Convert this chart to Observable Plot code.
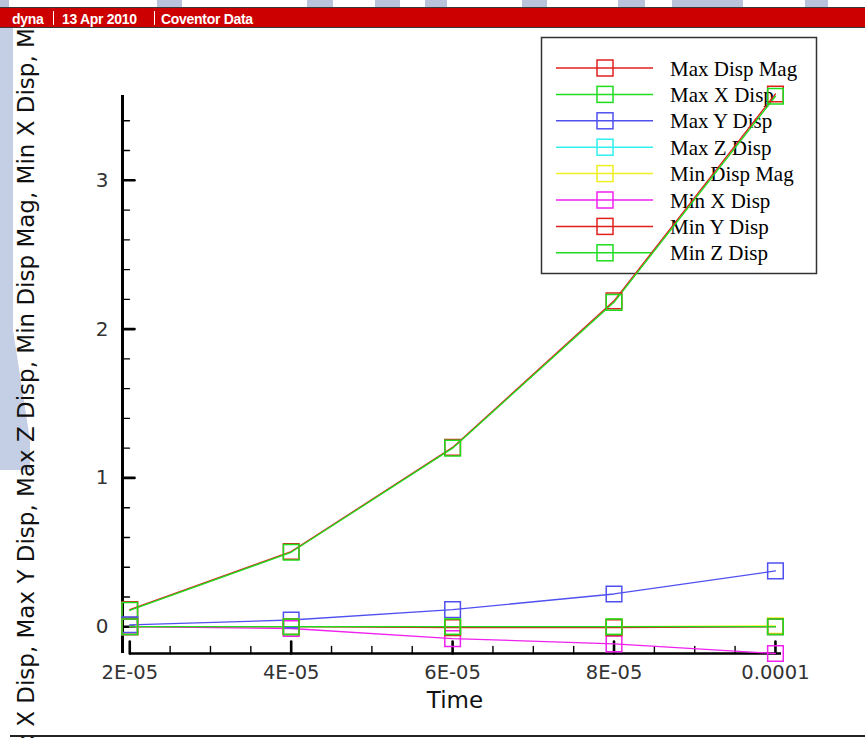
<!DOCTYPE html>
<html><head><meta charset="utf-8">
<script src="https://cdn.jsdelivr.net/npm/d3@7"></script>
<script src="https://cdn.jsdelivr.net/npm/@observablehq/plot@0.6"></script>
<style>
html,body{margin:0;padding:0;background:#fff;}
#wrap{position:relative;width:865px;height:738px;overflow:hidden;background:#fff;}
#watermark{position:absolute;left:0;top:0;}
#chart{position:absolute;left:0;top:0;}
#header{position:absolute;left:0;top:0;z-index:3;}
#bottomline{position:absolute;left:10px;top:735px;width:855px;height:2px;background:#222;z-index:3;}
</style>
</head><body>
<div id="wrap">
  <svg id="watermark" width="60" height="738" xmlns="http://www.w3.org/2000/svg">
    <polygon points="0,28 13,28 13,330 30,440 30,470 0,470" fill="#c4cee4"/>
  </svg>
  <div id="chart"></div>
  <svg id="header" width="865" height="28" xmlns="http://www.w3.org/2000/svg">
    <rect x="0" y="0" width="865" height="7" fill="#fff"/>
    <g fill="#b9c4dc">
      <rect x="0" y="0" width="9" height="7"/>
      <rect x="157" y="0" width="25" height="7"/>
      <rect x="307" y="0" width="26" height="7"/>
      <rect x="375" y="0" width="25" height="7"/>
      <rect x="425" y="0" width="22" height="7"/>
      <rect x="522" y="0" width="25" height="7"/>
      <rect x="618" y="0" width="27" height="7"/>
      <rect x="672" y="0" width="71" height="7"/>
      <rect x="805" y="0" width="23" height="7"/>
    </g>
    <rect x="0" y="7" width="865" height="21" fill="#3a3a3a"/>
    <rect x="0" y="8" width="865" height="19" fill="#cc0000"/>
    <g fill="#fff" font-family="'Liberation Sans', Arial, sans-serif" font-weight="bold" font-size="14" letter-spacing="-0.3">
      <text x="12" y="24">dyna</text>
      <text x="62" y="24">13 Apr 2010</text>
      <text x="161" y="24">Coventor Data</text>
    </g>
    <g stroke="#fff" stroke-width="1">
      <line x1="53.5" x2="53.5" y1="11" y2="25"/>
      <line x1="154.5" x2="154.5" y1="11" y2="25"/>
    </g>
  </svg>
  <div id="bottomline"></div>
</div>
<script>
// ---- data ----
const times = [2e-5, 4e-5, 6e-5, 8e-5, 1e-4];
const seriesNames = ["Max Disp Mag", "Max X Disp", "Max Y Disp", "Max Z Disp", "Min Disp Mag", "Min X Disp", "Min Y Disp", "Min Z Disp"];
const seriesColors = ["#e0201e", "#1edc1e", "#5050f0", "#30f0f0", "#f0f020", "#f020f0", "#e0201e", "#1edc1e"];
const maxDispMag = [0.115, 0.505, 1.205, 2.19, 3.58];
const maxXDisp   = [0.11, 0.50, 1.20, 2.18, 3.565];
const maxYDisp   = [0.013, 0.045, 0.115, 0.22, 0.375];
const maxZDisp   = [0, 0, 0, 0, 0];
const minDispMag = [0, 0, 0, 0, 0.006];
const minXDisp   = [0, -0.012, -0.08, -0.115, -0.18];
const minYDisp   = [0, 0, -0.006, -0.006, 0];
const minZDisp   = [0, 0, 0, 0, 0];
const seriesValues = [maxDispMag, maxXDisp, maxYDisp, maxZDisp, minDispMag, minXDisp, minYDisp, minZDisp];

const xMajor = [2e-5, 4e-5, 6e-5, 8e-5, 1e-4];
const xTickLabels = ["2E-05", "4E-05", "6E-05", "8E-05", "0.0001"];
const xMinor = [2.5e-5, 3e-5, 3.5e-5, 4.5e-5, 5e-5, 5.5e-5, 6.5e-5, 7e-5, 7.5e-5, 8.5e-5, 9e-5, 9.5e-5];
const yMajor = [0, 1, 2, 3];
const yTickLabels = ["0", "1", "2", "3"];
const yMinor = [0.2, 0.4, 0.6, 0.8, 1.2, 1.4, 1.6, 1.8, 2.2, 2.4, 2.6, 2.8, 3.2, 3.4];
const xTitle = "Time";
const yTitle = seriesNames.join(", ");

const xDomain = [1.91e-5, 1.0075e-4];
const yDomain = [-0.18, 3.57];

// tidy table
const table = [];
seriesNames.forEach((name, i) => {
  times.forEach((t, j) => table.push({series: name, t, v: seriesValues[i][j]}));
});

const tickShape = {draw(ctx, l) { ctx.moveTo(0, 0); ctx.lineTo(0, -l); }};
const font = "'DejaVu Sans', Verdana, sans-serif";

const plot = Plot.plot({
  width: 865,
  height: 738,
  marginLeft: 122,
  marginRight: 84,
  marginTop: 95,
  marginBottom: 85,
  style: {fontFamily: font, background: "transparent", overflow: "visible"},
  x: {domain: xDomain, axis: null},
  y: {domain: yDomain, axis: null},
  color: {domain: seriesNames, range: seriesColors},
  marks: [
    // axis lines
    Plot.ruleX([xDomain[0]], {y1: yDomain[0], y2: yDomain[1], stroke: "#000", strokeWidth: 3}),
    Plot.ruleY([yDomain[0]], {x1: xMajor[0], x2: xDomain[1], stroke: "#000", strokeWidth: 2.4}),
    // ticks
    Plot.vector(yMajor, {x: xDomain[0], y: d => d, rotate: 90, length: 12, anchor: "start", shape: tickShape, stroke: "#000", strokeWidth: 2.6}),
    Plot.vector(yMinor, {x: xDomain[0], y: d => d, rotate: 90, length: 7, anchor: "start", shape: tickShape, stroke: "#000", strokeWidth: 1.4}),
    Plot.vector(xMajor, {x: d => d, y: yDomain[0], rotate: 0, length: 12, anchor: "start", shape: tickShape, stroke: "#000", strokeWidth: 2.6}),
    Plot.vector(xMinor, {x: d => d, y: yDomain[0], rotate: 0, length: 7, anchor: "start", shape: tickShape, stroke: "#000", strokeWidth: 1.4}),
    // tick labels
    Plot.text(yMajor, {x: xDomain[0], y: d => d, text: (d, i) => yTickLabels[i], textAnchor: "end", dx: -14, fontSize: 20, fill: "#333"}),
    Plot.text(xMajor, {x: d => d, y: yDomain[0], text: (d, i) => xTickLabels[i], dy: 19, lineAnchor: "middle", fontSize: 19.5, fill: "#333"}),
    // titles
    Plot.text([xTitle], {frameAnchor: "bottom", dx: 3, dy: 47, lineAnchor: "middle", textAnchor: "middle", fontSize: 23, fill: "#111"}),
    Plot.text([yTitle], {frameAnchor: "left", rotate: -90, dx: -96, lineAnchor: "middle", textAnchor: "middle", fontSize: 23, fill: "#111"}),
    // data
    Plot.line(table, {x: "t", y: "v", z: "series", stroke: "series", strokeWidth: 1.3}),
    Plot.dot(table, {x: "t", y: "v", stroke: "series", symbol: "square", r: 8.8, strokeWidth: 1.5, fill: "none"})
  ]
});
document.getElementById("chart").appendChild(plot);

// legend drawn beneath the data marks
const svg = d3.select(plot);
const lg = svg.insert("g", "g").attr("class", "legend");
lg.append("rect").attr("x", 541.5).attr("y", 37.5).attr("width", 275).attr("height", 236)
  .attr("fill", "none").attr("stroke", "#333").attr("stroke-width", 1.5);
seriesNames.forEach((name, i) => {
  const yy = 68 + i * 26.4;
  const c = seriesColors[i];
  lg.append("line").attr("x1", 556).attr("x2", 653).attr("y1", yy).attr("y2", yy).attr("stroke", c).attr("stroke-width", 1.5);
  lg.append("rect").attr("x", 597).attr("y", yy - 8).attr("width", 16).attr("height", 16)
    .attr("fill", "none").attr("stroke", c).attr("stroke-width", 1.5);
  lg.append("text").attr("x", 670).attr("y", yy + 7.5).text(name)
    .attr("text-anchor", "start")
    .attr("font-family", "'Liberation Serif', 'Times New Roman', serif").attr("font-size", 21).attr("fill", "#000");
});
</script>
</body></html>
